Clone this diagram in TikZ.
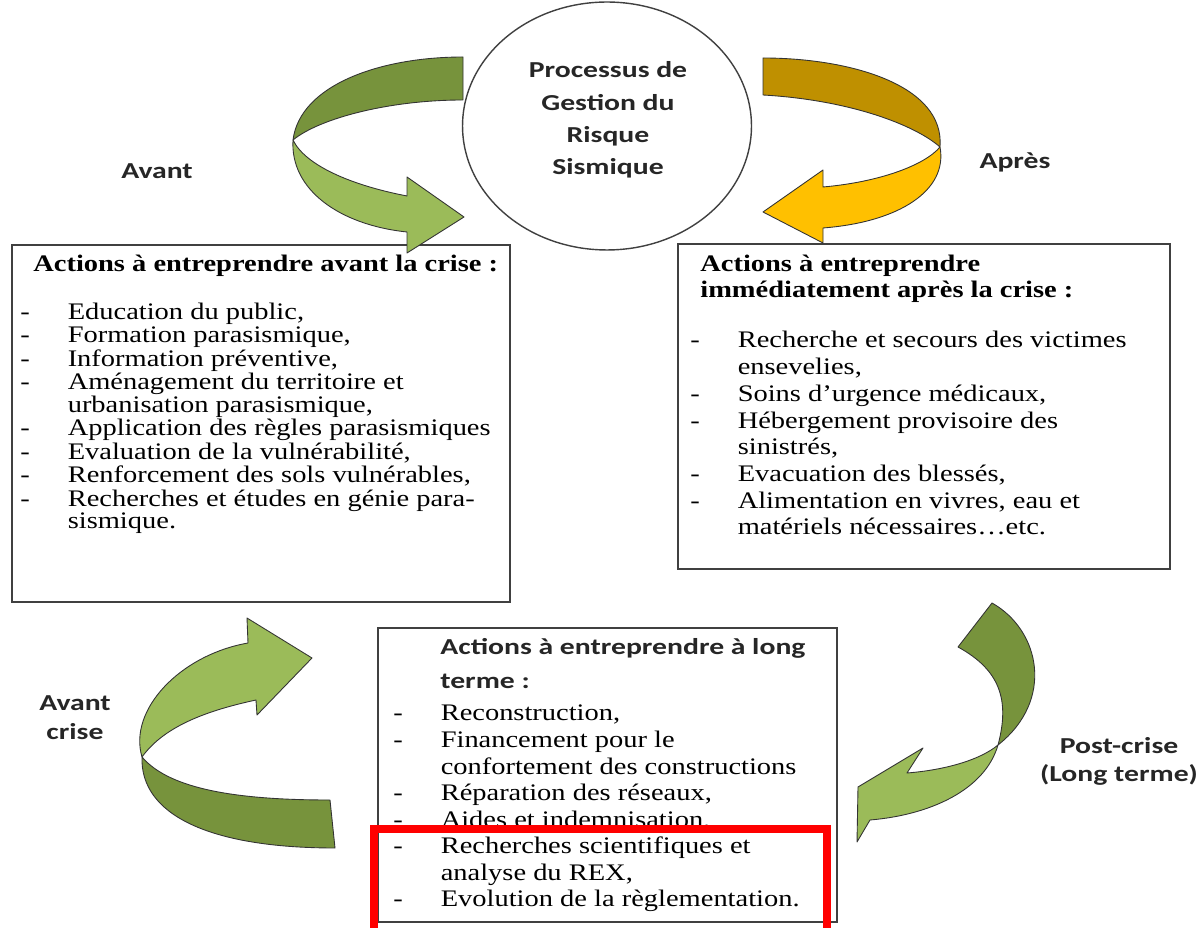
\documentclass[tikz,border=0pt]{standalone}
\usepackage{fontspec}
\usetikzlibrary{fit,shapes.geometric}
\newfontfamily\boxserif[FakeStretch=1.2]{Liberation Serif}
\newfontfamily\boxsans[FakeStretch=1.3]{Carlito}
\definecolor{olivedark}{RGB}{119,147,60}
\definecolor{olivelight}{RGB}{155,187,89}
\definecolor{golddark}{RGB}{191,144,0}
\definecolor{goldlight}{RGB}{255,192,0}
\tikzset{
  actbox/.style={draw=black!75, line width=0.9pt, inner sep=0pt},
  ribbon/.style={draw=black!80, line width=0.5pt, line join=round},
  sanslabel/.style={font=\boxsans\bfseries\fontsize{13}{#1}\selectfont, text=black!85, inner sep=0pt},
  sanslabel/.default=16,
  boxtitle/.style={font=\boxserif\bfseries\fontsize{13.5}{14.8}\selectfont, inner sep=0pt, anchor=base west},
  itemlist/.style={font=\boxserif\fontsize{13.5}{#1}\selectfont, inner sep=0pt, anchor=base west}
}
\begin{document}
\begin{tikzpicture}[x=0.02cm, y=-0.02cm]
  \useasboundingbox (0,0) rectangle (1200,928);

  % cadres
  \node[actbox, fit={(12,245) (510,602)}]  (avbox) {};
  \node[actbox, fit={(678,244) (1170,569)}] (apbox) {};
  \node[actbox, fit={(378,628) (837,922)}]  (ltbox) {};
  \node[ellipse, draw=black!75, line width=0.8pt, minimum width=5.78cm,
        minimum height=4.96cm, inner sep=0pt] (proc) at (607,126) {};
  \node[sanslabel=18.3, anchor=base] (proctxt) at (608,78)
    {\begin{tabular}[t]{@{}c@{}}Processus de\\Gestion du\\Risque\\Sismique\end{tabular}};

  % fleches
  \filldraw[ribbon, fill=olivedark] (463,57) .. controls (380,57) and (300,85) .. (293,140)
    .. controls (320,118) and (390,100) .. (463,100) -- cycle;
  \filldraw[ribbon, fill=olivelight] (293,140) .. controls (290,190) and (340,225) .. (407,232)
    -- (407,253) -- (464,217) -- (407,177) -- (407,196)
    .. controls (350,185) and (305,165) .. (293,140) -- cycle;
  \filldraw[ribbon, fill=golddark] (763,58) .. controls (850,58) and (945,85) .. (940,147)
    .. controls (915,125) and (850,100) .. (763,95) -- cycle;
  \filldraw[ribbon, fill=goldlight] (940,147) .. controls (948,190) and (900,222) .. (823,228)
    -- (823,243) -- (763,212) -- (823,170) -- (823,187)
    .. controls (880,182) and (925,165) .. (940,147) -- cycle;
  \filldraw[ribbon, fill=olivedark] (330,800) .. controls (240,800) and (170,790) .. (142,757)
    .. controls (140,815) and (210,848) .. (335,848) -- cycle;
  \filldraw[ribbon, fill=olivelight] (142,757) .. controls (128,710) and (180,655) .. (248,643)
    -- (247,618) -- (312,658) -- (257,715) -- (256,700)
    .. controls (210,710) and (165,725) .. (142,757) -- cycle;
  \filldraw[ribbon, fill=olivedark] (992,603) .. controls (1040,630) and (1055,700) .. (998,745)
    .. controls (1010,700) and (1000,670) .. (958,647) -- cycle;
  \filldraw[ribbon, fill=olivelight] (998,745) .. controls (985,790) and (930,815) .. (870,820)
    -- (857,842) -- (858,787) -- (923,748) -- (907,773)
    .. controls (945,770) and (980,760) .. (998,745) -- cycle;

  % etiquettes
  \node[sanslabel, anchor=base] (avant) at (157,179) {Avant};
  \node[sanslabel, anchor=base] (apres) at (1015,169) {Après};
  \node[sanslabel=17, anchor=base] (avantcrise) at (75,710)
    {\begin{tabular}[t]{@{}c@{}}Avant\\crise\end{tabular}};
  \node[sanslabel=16, anchor=base] (postcrise) at (1119,753)
    {\begin{tabular}[t]{@{}c@{}}Post-crise\\(Long terme)\end{tabular}};

  % avant la crise
  \node[boxtitle] (avtitle) at (33,272) {Actions à entreprendre avant la crise :};
  \node[itemlist=12.9] (avlist) at (20,320) {\begin{tabular}[t]{@{}p{27pt}@{}l@{}}
    - & Education du public,\\
    - & Formation parasismique,\\
    - & Information préventive,\\
    - & Aménagement du territoire et\\
      & urbanisation parasismique,\\
    - & Application des règles parasismiques\\
    - & Evaluation de la vulnérabilité,\\
    - & Renforcement des sols vulnérables,\\
    - & Recherches et études en génie para-\\
      & sismique.
  \end{tabular}};

  % apres la crise
  \node[boxtitle] (aptitle) at (700,272)
    {\begin{tabular}[t]{@{}l@{}}Actions à entreprendre\\immédiatement après la crise :\end{tabular}};
  \node[itemlist=15.2] (aplist) at (690,348) {\begin{tabular}[t]{@{}p{27pt}@{}l@{}}
    - & Recherche et secours des victimes\\
      & ensevelies,\\
    - & Soins d’urgence médicaux,\\
    - & Hébergement provisoire des\\
      & sinistrés,\\
    - & Evacuation des blessés,\\
    - & Alimentation en vivres, eau et\\
      & matériels nécessaires…etc.
  \end{tabular}};

  % long terme
  \node[sanslabel=18.8, anchor=base west] (lttitle) at (440,655)
    {\begin{tabular}[t]{@{}l@{}}Actions à entreprendre à long\\terme :\end{tabular}};
  \node[itemlist=15.1] (ltlist) at (393,721) {\begin{tabular}[t]{@{}p{27pt}@{}l@{}}
    - & Reconstruction,\\
    - & Financement pour le\\
      & confortement des constructions\\
    - & Réparation des réseaux,\\
    - & Aides et indemnisation,\\
    - & Recherches scientifiques et\\
      & analyse du REX,\\
    - & Evolution de la règlementation.
  \end{tabular}};

  \draw[red, line width=4.55pt] (374,928) -- (374,829) -- (827,829) -- (827,928);
\end{tikzpicture}
\end{document}
